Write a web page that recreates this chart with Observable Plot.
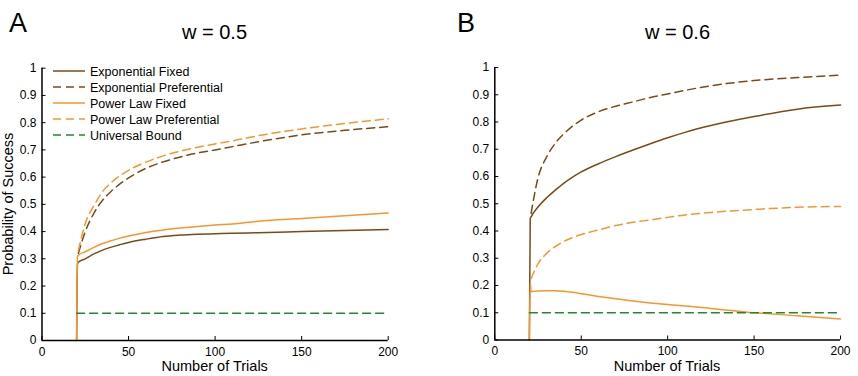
<!DOCTYPE html>
<html>
<head>
<meta charset="utf-8">
<script src="https://cdn.jsdelivr.net/npm/d3@7"></script>
<script src="https://cdn.jsdelivr.net/npm/@observablehq/plot@0.6"></script>
<style>
  html, body { margin: 0; padding: 0; background: #fff; }
  #fig { position: relative; width: 858px; height: 376px; overflow: hidden; font-family: "Liberation Sans", Arial, sans-serif; }
  #fig > svg, #fig > div { position: absolute; top: 0; }
</style>
</head>
<body>
<div id="fig"></div>
<script>
// ---------- data ----------
const trials = [20, 20.5, 21, 25, 30, 35, 40, 45, 50, 60, 70, 80, 90, 100, 110, 125, 150, 175, 200];

// Panel A (w = 0.5)
const expFixedA = [0, 0.28, 0.287, 0.300, 0.318, 0.332, 0.343, 0.352, 0.360, 0.372, 0.382, 0.387, 0.390, 0.392, 0.394, 0.396, 0.400, 0.404, 0.408];
const expPrefA  = [null, null, 0.32, 0.40, 0.468, 0.515, 0.548, 0.575, 0.597, 0.632, 0.656, 0.674, 0.689, 0.700, 0.712, 0.730, 0.755, 0.772, 0.785];
const powFixedA = [0, 0.308, 0.313, 0.326, 0.342, 0.356, 0.366, 0.376, 0.384, 0.397, 0.406, 0.413, 0.419, 0.424, 0.428, 0.438, 0.448, 0.458, 0.468];
const powPrefA  = [null, null, 0.33, 0.43, 0.495, 0.547, 0.580, 0.605, 0.625, 0.655, 0.678, 0.696, 0.710, 0.722, 0.733, 0.752, 0.777, 0.797, 0.814];
const boundA    = [0.1, 0.1, 0.1, 0.1, 0.1, 0.1, 0.1, 0.1, 0.1, 0.1, 0.1, 0.1, 0.1, 0.1, 0.1, 0.1, 0.1, 0.1, 0.1];

// Panel B (w = 0.6)
const expFixedB = [0, 0.445, 0.452, 0.488, 0.522, 0.550, 0.576, 0.598, 0.617, 0.647, 0.673, 0.697, 0.720, 0.742, 0.762, 0.787, 0.820, 0.847, 0.862];
const expPrefB  = [null, null, 0.465, 0.595, 0.672, 0.722, 0.757, 0.785, 0.807, 0.838, 0.858, 0.874, 0.890, 0.903, 0.916, 0.933, 0.952, 0.963, 0.972];
const powFixedB = [0, 0.21, 0.178, 0.180, 0.181, 0.181, 0.179, 0.175, 0.170, 0.160, 0.151, 0.143, 0.136, 0.130, 0.125, 0.116, 0.100, 0.089, 0.077];
const powPrefB  = [null, null, 0.225, 0.280, 0.318, 0.343, 0.362, 0.376, 0.387, 0.404, 0.420, 0.432, 0.441, 0.450, 0.459, 0.468, 0.479, 0.487, 0.490];
const boundB    = [0.1, 0.1, 0.1, 0.1, 0.1, 0.1, 0.1, 0.1, 0.1, 0.1, 0.1, 0.1, 0.1, 0.1, 0.1, 0.1, 0.1, 0.1, 0.1];

const seriesNames = ["Exponential Fixed", "Exponential Preferential", "Power Law Fixed", "Power Law Preferential", "Universal Bound"];
const xTicks = [0, 50, 100, 150, 200];
const yTicks = [0, 0.1, 0.2, 0.3, 0.4, 0.5, 0.6, 0.7, 0.8, 0.9, 1];
const panelLetters = ["A", "B"];
const panelTitles = ["w = 0.5", "w = 0.6"];
const xLabel = "Number of Trials";
const yLabel = "Probability of Success";

// ---------- styles ----------
const BROWN = "#7c4a17", ORANGE = "#f5972c", GREEN = "#23892a";
const DASH = "8,5";
const seriesStyle = [
  {stroke: BROWN, dash: null},
  {stroke: BROWN, dash: DASH},
  {stroke: ORANGE, dash: null},
  {stroke: ORANGE, dash: DASH},
  {stroke: GREEN, dash: DASH}
];
const FONT = "Liberation Sans, Arial, Helvetica, sans-serif";

function rows(values) {
  return trials.map((t, i) => ({x: t, y: values[i]}));
}

function panel(valuesList, m) {
  const lineMarks = valuesList.map((vals, i) => Plot.line(rows(vals), {
    x: "x", y: "y",
    stroke: seriesStyle[i].stroke,
    strokeWidth: 1.5,
    strokeDasharray: seriesStyle[i].dash,
    curve: "monotone-x"
  }));
  return Plot.plot({
    width: m.width, height: 376,
    marginLeft: m.left, marginRight: m.right, marginTop: m.top, marginBottom: m.bottom,
    x: {domain: [0, 200]},
    y: {domain: [0, 1]},
    style: {fontFamily: FONT, fontSize: "12px", color: "#000", background: "transparent", overflow: "visible"},
    marks: [
      ...lineMarks,
      Plot.ruleY([0], {stroke: "#000", strokeWidth: 1.5}),
      Plot.ruleX([0], {stroke: "#000", strokeWidth: 1.5}),
      Plot.axisX({ticks: xTicks, tickSize: -4, tickPadding: 10.5, label: null, tickFormat: d => String(d)}),
      Plot.axisY({ticks: yTicks, tickSize: -4, tickPadding: 9.5, label: null, tickFormat: d => String(d)})
    ]
  });
}

const fig = document.getElementById("fig");
const svgA = panel([expFixedA, expPrefA, powFixedA, powPrefA, boundA], {width: 429, left: 41.5, right: 41.3, top: 67.7, bottom: 36});
svgA.style.left = "0px";
fig.appendChild(svgA);
const svgB = panel([expFixedB, expPrefB, powFixedB, powPrefB, boundB], {width: 429, left: 65.3, right: 18, top: 67, bottom: 36.5});
svgB.style.left = "429px";
fig.appendChild(svgB);

// ---------- overlay texts & legend ----------
const ov = d3.select(fig).append("svg")
  .attr("width", 858).attr("height", 376)
  .style("left", "0px").style("pointer-events", "none")
  .attr("font-family", FONT).attr("fill", "#000");

const letterX = [9, 457];
const titleX = [214.5, 677.5];
const xLabelX = [214.7, 667];
panelLetters.forEach((l, i) => {
  ov.append("text").attr("x", letterX[i]).attr("y", 32).attr("font-size", 27).text(l);
  ov.append("text").attr("x", titleX[i]).attr("y", 39).attr("font-size", 20).attr("text-anchor", "middle").text(panelTitles[i]);
  ov.append("text").attr("x", xLabelX[i]).attr("y", 371).attr("font-size", 14.5).attr("text-anchor", "middle").text(xLabel);
});
ov.append("text").attr("transform", "translate(13,204) rotate(-90)")
  .attr("font-size", 14.5).attr("text-anchor", "middle").text(yLabel);

const leg = ov.append("g");
seriesNames.forEach((name, i) => {
  const cy = 71 + 16 * i;
  leg.append("line").attr("x1", 53).attr("x2", 85).attr("y1", cy).attr("y2", cy)
    .attr("stroke", seriesStyle[i].stroke).attr("stroke-width", 1.5)
    .attr("stroke-dasharray", seriesStyle[i].dash);
  leg.append("text").attr("x", 90).attr("y", cy + 4.5).attr("font-size", 12.5).text(name);
});
</script>
</body>
</html>
